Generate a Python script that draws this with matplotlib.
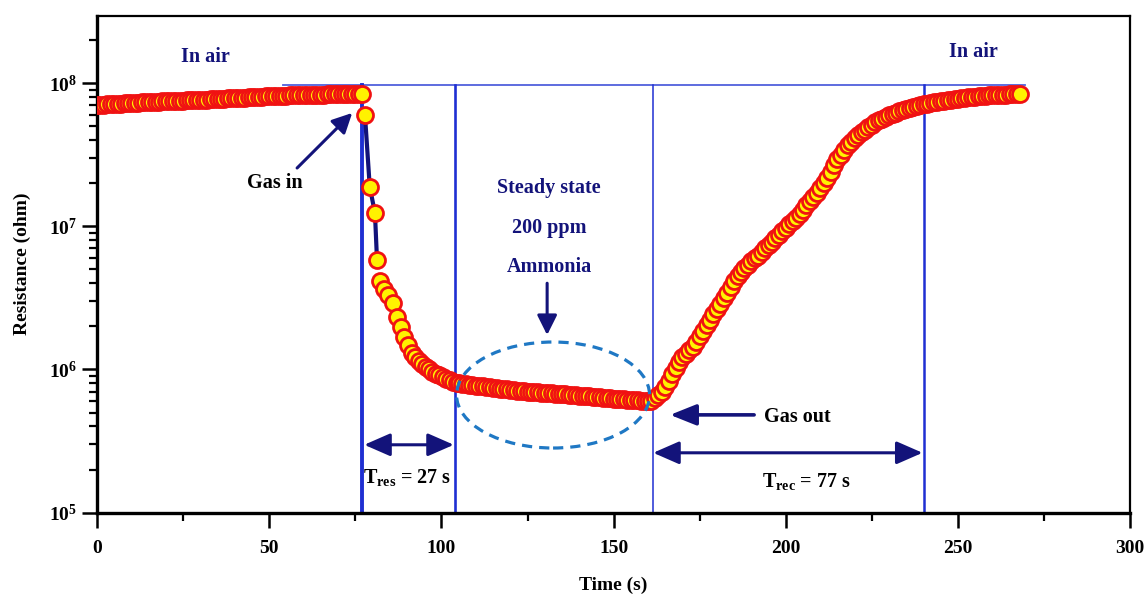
import numpy as np
import matplotlib
matplotlib.use("Agg")
import matplotlib.pyplot as plt
from matplotlib.patches import Ellipse
from matplotlib.ticker import FuncFormatter, LogLocator, MultipleLocator, NullFormatter

plt.rcParams['font.family'] = ['Liberation Serif', 'DejaVu Serif']
plt.rcParams['font.weight'] = 'bold'
plt.rcParams['mathtext.fontset'] = 'custom'
plt.rcParams['mathtext.rm'] = 'Liberation Serif:bold'
plt.rcParams['mathtext.bf'] = 'Liberation Serif:bold'
plt.rcParams['mathtext.it'] = 'Liberation Serif:bold'

# ---------------- data (time in s, resistance in MOhm) ----------------
time_air = np.arange(0, 78)
res_air = [70.3, 70.5, 70.7, 70.9, 71.1, 71.4, 71.6, 71.8, 72.0, 72.2, 72.5,
           72.7, 72.9, 73.1, 73.3, 73.5, 73.7, 73.9, 74.1, 74.3, 74.5,
           74.7, 74.9, 75.1, 75.2, 75.4, 75.6, 75.8, 75.9, 76.1, 76.3,
           76.5, 76.7, 76.9, 77.1, 77.4, 77.6, 77.8, 78.0, 78.3, 78.5,
           78.7, 78.9, 79.2, 79.4, 79.6, 79.8, 80.0, 80.2, 80.5, 80.8,
           81.0, 81.2, 81.4, 81.5, 81.7, 81.9, 82.0, 82.2, 82.4, 82.5,
           82.6, 82.7, 82.8, 82.9, 83.0, 83.1, 83.2, 83.3, 83.5, 83.6,
           83.7, 83.8, 83.9, 84.0, 84.1, 84.2, 84.3]

time_decay = [77.8, 79.2, 80.7, 81.3, 82.2, 83.4, 84.6, 85.9, 87.1, 88.2,
              89.1, 90.3, 91.4, 92.4, 93.4, 94.4, 95.4, 96.4, 97.4, 98.4,
              99.4, 100.4, 101.4, 102.4, 103.4, 104.4]
res_decay = [59.8, 18.8, 12.4, 5.82, 4.17, 3.67, 3.31, 2.92, 2.33, 1.98,
             1.69, 1.49, 1.31, 1.22, 1.15, 1.10, 1.04, 1.00, 0.966, 0.933,
             0.908, 0.883, 0.861, 0.841, 0.822, 0.805]

time_steady = np.arange(105, 162)
res_steady = [0.800, 0.794, 0.788, 0.782, 0.776, 0.771, 0.766, 0.761, 0.756, 0.751,
              0.746, 0.741, 0.736, 0.731, 0.726, 0.722, 0.717, 0.713, 0.709, 0.705,
              0.701, 0.698, 0.695, 0.692, 0.689, 0.687, 0.684, 0.681, 0.678, 0.675,
              0.672, 0.669, 0.666, 0.663, 0.660, 0.657, 0.654, 0.651, 0.648, 0.645,
              0.642, 0.639, 0.636, 0.633, 0.630, 0.627, 0.624, 0.621, 0.618, 0.615,
              0.613, 0.611, 0.609, 0.607, 0.605, 0.604, 0.603]

time_recovery = np.arange(162, 269)
res_recovery = [0.631, 0.661, 0.700, 0.759, 0.832, 0.933, 1.023, 1.122, 1.216, 1.288,
                1.365, 1.445, 1.567, 1.718, 1.862, 2.042, 2.213, 2.427, 2.630, 2.884,
                3.162, 3.428, 3.758, 4.121, 4.519, 4.786, 5.070, 5.370, 5.689, 5.957,
                6.237, 6.607, 6.998, 7.413, 7.762, 8.222, 8.710, 9.226, 9.772, 10.35,
                10.96, 11.48, 12.16, 13.03, 13.96, 14.96, 16.03, 17.18, 18.62, 20.18,
                21.88, 23.99, 26.92, 29.51, 31.62, 34.28, 36.73, 38.90, 41.21, 43.15,
                45.19, 47.32, 49.55, 51.29, 53.09, 54.95, 56.49, 57.94, 59.43, 60.81,
                62.23, 63.53, 64.71, 65.92, 66.99, 68.08, 69.02, 69.98, 70.79, 71.61,
                72.44, 73.11, 73.79, 74.47, 75.16, 75.86, 76.56, 77.09, 77.62, 78.16,
                78.70, 79.25, 79.80, 80.35, 80.72, 81.10, 81.47, 81.85, 82.22, 82.41,
                82.60, 82.79, 82.99, 83.18, 83.37, 83.56, 83.75]

gas_in_time = 77
steady_start_time = 104
gas_out_time = 161.5
recovered_time = 240
t_res_label = r'$\mathbf{T_{res}}$ = 27 s'
t_rec_label = r'$\mathbf{T_{rec}}$ = 77 s'

# ---------------- figure ----------------
fig = plt.figure(figsize=(11.48, 5.95), dpi=100)
ax = fig.add_axes([0.0845, 0.1383, 0.9000, 0.8353])
ax.set_yscale('log')
ax.set_xlim(0, 300)
ax.set_ylim(1e5, 2.95e8)

navy = '#13137a'
blue = '#1f2fd2'
top_R = 9.7e7

# reference lines
ax.plot([54, 269.5], [top_R, top_R], color='#5060dc', lw=1.3, zorder=1)
for tv, lw in [(gas_in_time, 2.8), (steady_start_time, 1.9), (gas_out_time, 1.1), (recovered_time, 1.8)]:
    ax.plot([tv, tv], [1e5, top_R], color=blue, lw=lw, zorder=1)

# data
t_all = np.concatenate([time_air, time_decay, time_steady, time_recovery])
r_all = np.concatenate([res_air, res_decay, res_steady, res_recovery]) * 1e6
ax.plot(np.array(time_decay[:4]), np.array(res_decay[:4]) * 1e6, ls='-',
        color=navy, lw=3.0, zorder=2)
ax.plot(t_all, r_all, 'o', ms=11.5, mfc='#fff200', mec='#f01212', mew=2.0, zorder=3)

# ellipse (steady state marker)
ell = Ellipse((0.4414, 0.2368), 0.1868, 0.2133, transform=ax.transAxes, fill=False,
              ec='#1f78c4', lw=2.3, ls=(0, (3.2, 2.2)), zorder=4)
ax.add_patch(ell)

# text annotations
tkw = dict(fontsize=14.5, fontweight='bold', ha='center', va='center')
ax.text(31.4, 1.52e8, 'In air', color=navy, **tkw)
ax.text(254.4, 1.64e8, 'In air', color=navy, **tkw)
ax.text(131.3, 1.85e7, 'Steady state', color=navy, **tkw)
ax.text(131.3, 9.73e6, '200 ppm', color=navy, **tkw)
ax.text(131.3, 5.2e6, 'Ammonia', color=navy, **tkw)
ax.text(51.7, 2.0e7, 'Gas in', color='black', **tkw)
ax.text(203.3, 4.67e5, 'Gas out', color='black', **tkw)
ax.text(90.0, 1.76e5, t_res_label, color='black', fontsize=14.5, fontweight='bold',
        ha='center', va='center')
ax.text(206.0, 1.66e5, t_rec_label, color='black', fontsize=14.5, fontweight='bold',
        ha='center', va='center')

# arrows
single = dict(arrowstyle='-|>,head_length=0.6,head_width=0.3', color=navy, lw=2.2,
              shrinkA=0, shrinkB=0, mutation_scale=20)
ax.annotate('', xy=(74.1, 6.18e7), xytext=(58.1, 2.55e7), arrowprops=single)
ax.annotate('', xy=(130.7, 1.74e6), xytext=(130.7, 4.0e6), arrowprops=single)
ax.annotate('', xy=(166.4, 4.82e5), xytext=(190.8, 4.82e5),
            arrowprops=dict(single, lw=2.6, arrowstyle='-|>,head_length=0.8,head_width=0.32'))
double = dict(arrowstyle='<|-|>,head_length=0.8,head_width=0.35', color=navy, lw=2.2,
              shrinkA=0, shrinkB=0, mutation_scale=20)
ax.annotate('', xy=(gas_in_time + 0.6, 2.98e5), xytext=(steady_start_time - 0.4, 2.98e5), arrowprops=double)
ax.annotate('', xy=(gas_out_time, 2.62e5), xytext=(recovered_time - 0.3, 2.62e5), arrowprops=double)

# axes styling
for side in ['left', 'bottom']:
    ax.spines[side].set_linewidth(2.4)
for side in ['top', 'right']:
    ax.spines[side].set_linewidth(1.6)

ax.xaxis.set_major_locator(MultipleLocator(50))
ax.xaxis.set_minor_locator(MultipleLocator(25))
ax.yaxis.set_major_locator(LogLocator(base=10, numticks=10))
ax.yaxis.set_minor_locator(LogLocator(base=10, subs=np.arange(2, 10), numticks=20))
ax.yaxis.set_minor_formatter(NullFormatter())
ax.yaxis.set_major_formatter(FuncFormatter(lambda v, p: r'$\mathbf{10^{%d}}$' % round(np.log10(v))))
ax.tick_params(which='major', direction='out', length=10.5, width=1.8, labelsize=14)
ax.tick_params(which='minor', direction='out', length=6, width=1.6)
ax.tick_params(axis='x', which='major', pad=9)
ax.tick_params(axis='y', which='major', pad=4)
for lab in ax.get_xticklabels():
    lab.set_fontweight('bold')

ax.set_xlabel('Time (s)', fontsize=14, fontweight='bold', labelpad=14)
ax.set_ylabel('Resistance (ohm)', fontsize=14, fontweight='bold', labelpad=13)

fig.savefig('out.png', dpi=100)
